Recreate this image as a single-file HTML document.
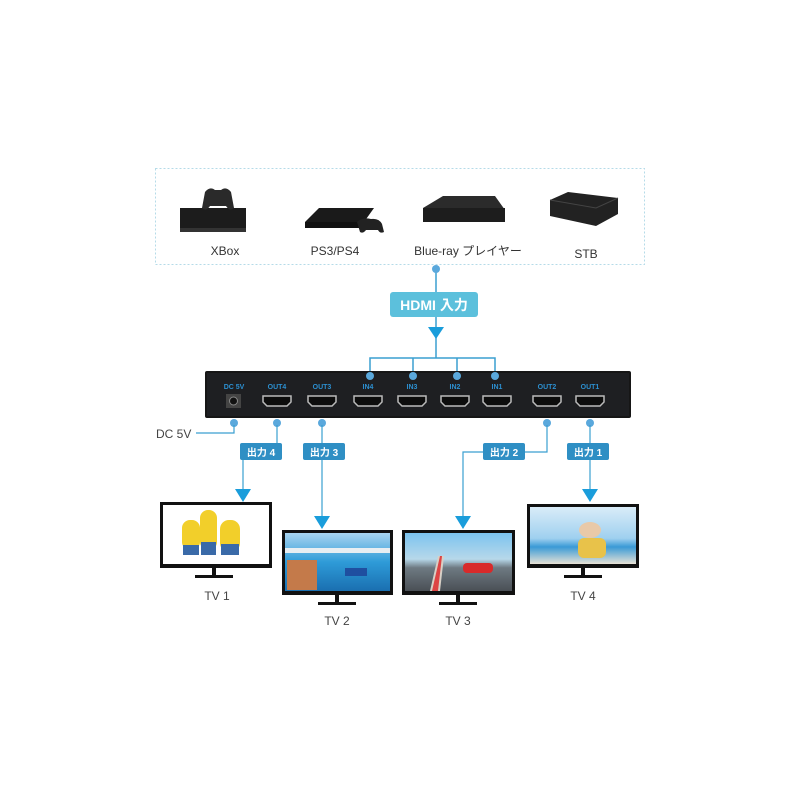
<!DOCTYPE html>
<html><head><meta charset="utf-8"><style>
html,body{margin:0;padding:0;background:#fff}
svg text{font-family:"Liberation Sans","Noto Sans CJK JP",sans-serif}
</style></head><body>
<svg width="800" height="800" viewBox="0 0 800 800" xmlns="http://www.w3.org/2000/svg">
<defs>
<linearGradient id="sky" x1="0" y1="0" x2="0" y2="1"><stop offset="0" stop-color="#bfe0f5"/><stop offset="0.45" stop-color="#7fc3ea"/><stop offset="1" stop-color="#1f8fd0"/></linearGradient>
<linearGradient id="sea" x1="0" y1="0" x2="0" y2="1"><stop offset="0" stop-color="#a9d4f0"/><stop offset="0.5" stop-color="#2e9bd8"/><stop offset="1" stop-color="#1a6fb0"/></linearGradient>
<linearGradient id="game" x1="0" y1="0" x2="0" y2="1"><stop offset="0" stop-color="#7cc3ef"/><stop offset="0.45" stop-color="#b7d8ea"/><stop offset="0.6" stop-color="#6e7a82"/><stop offset="1" stop-color="#4a4f55"/></linearGradient>
<linearGradient id="beach" x1="0" y1="0" x2="0" y2="1"><stop offset="0" stop-color="#d9ecf8"/><stop offset="0.55" stop-color="#9fd0ef"/><stop offset="0.7" stop-color="#3a9ad6"/><stop offset="1" stop-color="#e8e2d6"/></linearGradient>
</defs>
<!-- top dashed box -->
<rect x="155.5" y="168.5" width="489" height="96" fill="none" stroke="#b5dbe8" stroke-dasharray="2,2"/>
<!-- xbox -->
<rect x="180" y="208" width="66" height="22" fill="#1c1c1c"/><rect x="180" y="228" width="66" height="4" fill="#333"/>
<path d="M205 192 q5-6 10-2 h6 q5-4 10 2 l3 16 q-4 4-8 -2 h-16 q-4 6-8 2z" fill="#2a2a2a"/>
<!-- ps4 -->
<path d="M305 222 l14-14 h55 l-10 14 z" fill="#1a1a1a"/><rect x="305" y="222" width="59" height="6" fill="#111"/>
<path d="M357 222 q5-5 14-3 q8-1 11 5 l2 8 q-4 2-6-2 h-12 q-3 4-6 2z" fill="#222"/>
<!-- bluray -->
<path d="M423 208 l20-12 h52 l10 14 v12 h-82 z" fill="#2b2b2b"/><path d="M423 208 h82 v14 h-82z" fill="#1d1d1d"/>
<!-- stb -->
<path d="M550 200 l18-8 l50 6 v16 l-22 12 l-46-10z" fill="#222"/><path d="M550 200 l46 8 l22-10" fill="none" stroke="#444"/>
<text x="225" y="255" font-size="12" fill="#333" text-anchor="middle">XBox</text>
<text x="335" y="255" font-size="12" fill="#333" text-anchor="middle">PS3/PS4</text>
<text x="468" y="255" font-size="12" fill="#333" text-anchor="middle">Blue-ray プレイヤー</text>
<text x="586" y="258" font-size="12" fill="#333" text-anchor="middle">STB</text>
<!-- input connector -->
<g stroke="#3a9fd0" stroke-width="1.5" fill="none">
<line x1="436" y1="268" x2="436" y2="292"/>
<line x1="436" y1="317" x2="436" y2="358"/>
<polyline points="370,377 370,358 495,358 495,377"/>
<line x1="413" y1="358" x2="413" y2="377"/><line x1="457" y1="358" x2="457" y2="377"/>
</g>
<circle cx="436" cy="269" r="4" fill="#5aa8dc"/>
<rect x="390" y="292" width="88" height="25" rx="3" fill="#5cc0dc"/>
<text x="434" y="310" font-size="14" font-weight="bold" fill="#fff" text-anchor="middle">HDMI 入力</text>
<path d="M428 327 h16 l-8 12z" fill="#1a9ddb"/>
<!-- device -->
<rect x="205" y="371" width="426" height="47" rx="2" fill="#161616"/>
<rect x="207" y="373" width="422" height="43" fill="#1e1f22"/>
<g font-size="7" font-weight="bold" fill="#2c8fd0" text-anchor="middle">
<text x="234" y="389">DC 5V</text><text x="277" y="389">OUT4</text><text x="322" y="389">OUT3</text>
<text x="368" y="389">IN4</text><text x="412" y="389">IN3</text><text x="455" y="389">IN2</text><text x="497" y="389">IN1</text>
<text x="547" y="389">OUT2</text><text x="590" y="389">OUT1</text></g>
<rect x="226" y="394" width="15" height="14" fill="#444"/><circle cx="233.5" cy="401" r="4" fill="#111" stroke="#888"/>
<g fill="#0d0d0d" stroke="#bbb" stroke-width="1.5">
<path d="M263 396 h28 v6 l-4 4 h-20 l-4-4z"/><path d="M308 396 h28 v6 l-4 4 h-20 l-4-4z"/>
<path d="M354 396 h28 v6 l-4 4 h-20 l-4-4z"/><path d="M398 396 h28 v6 l-4 4 h-20 l-4-4z"/>
<path d="M441 396 h28 v6 l-4 4 h-20 l-4-4z"/><path d="M483 396 h28 v6 l-4 4 h-20 l-4-4z"/>
<path d="M533 396 h28 v6 l-4 4 h-20 l-4-4z"/><path d="M576 396 h28 v6 l-4 4 h-20 l-4-4z"/></g>
<g fill="#5aa8dc"><circle cx="370" cy="376" r="4"/><circle cx="413" cy="376" r="4"/><circle cx="457" cy="376" r="4"/><circle cx="495" cy="376" r="4"/>
<circle cx="234" cy="423" r="4"/><circle cx="277" cy="423" r="4"/><circle cx="322" cy="423" r="4"/><circle cx="547" cy="423" r="4"/><circle cx="590" cy="423" r="4"/></g>
<!-- output lines -->
<g stroke="#3a9fd0" stroke-width="1.2" fill="none">
<polyline points="196,433 234,433 234,425"/>
<line x1="277" y1="425" x2="277" y2="444"/><line x1="243" y1="460" x2="243" y2="492"/>
<line x1="322" y1="425" x2="322" y2="516"/>
<polyline points="547,425 547,452 525,452"/><polyline points="484,452 463,452 463,516"/>
<line x1="590" y1="425" x2="590" y2="492"/>
</g>
<text x="156" y="438" font-size="12" fill="#444">DC 5V</text>
<g fill="#2f8fc4"><rect x="240" y="443" width="42" height="17" rx="2"/><rect x="303" y="443" width="42" height="17" rx="2"/><rect x="483" y="443" width="42" height="17" rx="2"/><rect x="567" y="443" width="42" height="17" rx="2"/></g>
<g font-size="10" font-weight="bold" fill="#fff" text-anchor="middle">
<text x="261" y="456">出力 4</text><text x="324" y="456">出力 3</text><text x="504" y="456">出力 2</text><text x="588" y="456">出力 1</text></g>
<g fill="#1a9ddb"><path d="M235 489 h16 l-8 13z"/><path d="M314 516 h16 l-8 13z"/><path d="M455 516 h16 l-8 13z"/><path d="M582 489 h16 l-8 13z"/></g>
<!-- TVs -->
<rect x="160" y="502" width="112" height="66" fill="#111"/><rect x="163" y="505" width="106" height="59" fill="#fff"/>
<g fill="#f2cf2a"><rect x="182" y="520" width="18" height="30" rx="8"/><rect x="200" y="510" width="17" height="40" rx="8"/><rect x="220" y="520" width="20" height="32" rx="9"/></g>
<g fill="#3a6aa8"><rect x="183" y="545" width="16" height="10"/><rect x="201" y="542" width="15" height="13"/><rect x="221" y="544" width="18" height="11"/></g>
<rect x="212" y="568" width="4" height="7" fill="#111"/><rect x="195" y="575" width="38" height="3" fill="#111"/>
<text x="217" y="600" font-size="12" fill="#444" text-anchor="middle">TV 1</text>

<rect x="282" y="530" width="111" height="65" fill="#111"/><rect x="285" y="533" width="105" height="58" fill="url(#sea)"/>
<rect x="285" y="548" width="105" height="5" fill="#e8eef2"/><rect x="287" y="560" width="30" height="30" fill="#c47a4a"/><rect x="345" y="568" width="22" height="8" fill="#1f4fa0"/>
<rect x="335" y="595" width="4" height="7" fill="#111"/><rect x="318" y="602" width="38" height="3" fill="#111"/>
<text x="337" y="625" font-size="12" fill="#444" text-anchor="middle">TV 2</text>

<rect x="402" y="530" width="113" height="65" fill="#111"/><rect x="405" y="533" width="107" height="58" fill="url(#game)"/>
<path d="M430 591 l8-35 h6 l-4 35z" fill="#d8d0c6"/><path d="M432 591 l8-35 h2 l-4 35z" fill="#d44"/><rect x="463" y="563" width="30" height="10" rx="4" fill="#d82a2a"/>
<rect x="456" y="595" width="4" height="7" fill="#111"/><rect x="439" y="602" width="38" height="3" fill="#111"/>
<text x="458" y="625" font-size="12" fill="#444" text-anchor="middle">TV 3</text>

<rect x="527" y="504" width="112" height="64" fill="#111"/><rect x="530" y="507" width="106" height="57" fill="url(#beach)"/>
<ellipse cx="590" cy="530" rx="11" ry="8" fill="#e9c9a8"/><rect x="578" y="538" width="28" height="20" rx="6" fill="#e8c24a"/>
<rect x="581" y="568" width="4" height="7" fill="#111"/><rect x="564" y="575" width="38" height="3" fill="#111"/>
<text x="583" y="600" font-size="12" fill="#444" text-anchor="middle">TV 4</text>
</svg>
</body></html>
